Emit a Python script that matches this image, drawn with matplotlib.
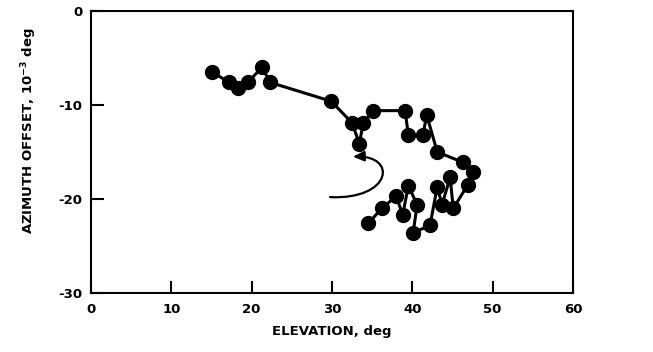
import matplotlib
matplotlib.use("Agg")
import matplotlib.pyplot as plt
from matplotlib.path import Path
from matplotlib.patches import FancyArrowPatch

# Antenna pointing track: elevation (deg) vs azimuth offset (1e-3 deg)
elevation = [34.5, 36.2, 38.0, 38.8, 39.5, 40.6, 40.1, 42.2, 43.1, 43.7,
             44.7, 45.1, 46.9, 47.6, 46.3, 43.1, 41.8, 41.3, 39.5, 39.1,
             35.1, 33.9, 33.4, 32.5, 29.9, 22.3, 21.3, 19.5, 18.3, 17.2,
             15.1]
azimuth_offset = [-22.6, -21.0, -19.7, -21.7, -18.6, -20.6, -23.6, -22.8,
                  -18.7, -20.6, -17.7, -21.0, -18.5, -17.1, -16.1, -15.0,
                  -11.1, -13.2, -13.2, -10.6, -10.6, -11.9, -14.1, -11.9,
                  -9.6, -7.6, -6.0, -7.6, -8.2, -7.6, -6.5]

x_ticks = [0, 10, 20, 30, 40, 50, 60]
y_ticks = [0, -10, -20, -30]

# Direction-of-travel arrow (cubic Bezier control points, data units)
arrow_pts = [(29.75, -19.8), (37.5, -20.1), (38.2, -15.3), (32.6, -15.5)]

fig = plt.figure(figsize=(6.53, 3.52), dpi=100)
ax = fig.add_axes([91 / 653, 1 - 293 / 352, (573 - 91) / 653, (293 - 11) / 352])

ax.plot(elevation, azimuth_offset, color="black", lw=2.2, marker="o",
        markersize=10, markerfacecolor="black", markeredgecolor="black",
        solid_joinstyle="round")

path = Path(arrow_pts, [Path.MOVETO, Path.CURVE4, Path.CURVE4, Path.CURVE4])
arrow = FancyArrowPatch(path=path, arrowstyle="-|>,head_length=0.55,head_width=0.25",
                        mutation_scale=12, color="black", lw=1.6)
ax.add_patch(arrow)

ax.set_xlim(0, 60)
ax.set_ylim(-30, 0)
ax.set_xticks(x_ticks)
ax.set_yticks(y_ticks)
ax.set_xticklabels([str(t) for t in x_ticks])
ax.set_yticklabels([str(t) for t in y_ticks])

font = dict(family="DejaVu Sans", weight="bold", size=9.5)
for lbl in ax.get_xticklabels() + ax.get_yticklabels():
    lbl.set_fontfamily("DejaVu Sans")
    lbl.set_fontweight("bold")
    lbl.set_fontsize(9.5)

ax.tick_params(direction="in", length=9, width=1.5, pad=6)
ax.tick_params(axis="x", pad=7)
for s in ax.spines.values():
    s.set_linewidth(1.5)

ax.set_xlabel("ELEVATION, deg", fontdict=font, labelpad=7)
ax.set_ylabel(r"AZIMUTH OFFSET, 10$^{\mathbf{-3}}$ deg", fontdict=font)
ax.yaxis.set_label_coords(-0.107, 0.575)

fig.savefig("out.png", dpi=100)
